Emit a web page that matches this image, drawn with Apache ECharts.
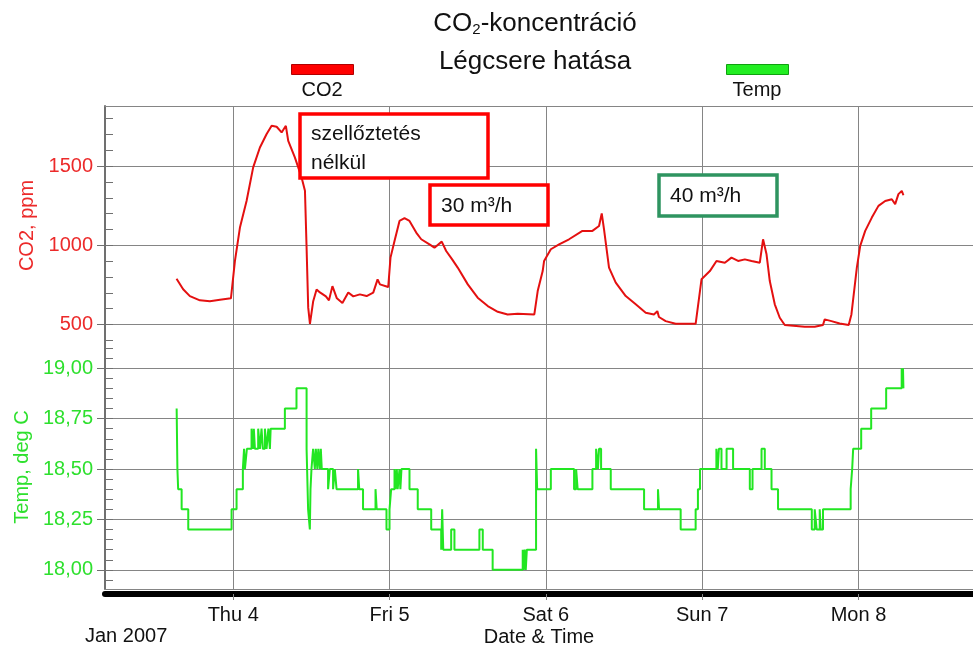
<!DOCTYPE html>
<html>
<head>
<meta charset="utf-8">
<script src="https://cdn.jsdelivr.net/npm/echarts@6/dist/echarts.min.js"></script>
<style>
html, body { margin: 0; padding: 0; background: #fff; }
#chart { width: 973px; height: 648px; }
</style>
</head>
<body>
<div id="chart"></div>
<script>
// CO2 readings (ppm)
const co2Times = [
  '2007-01-03 15:18', '2007-01-03 16:19', '2007-01-03 17:21', '2007-01-03 18:53', '2007-01-03 20:25',
  '2007-01-03 21:58', '2007-01-03 23:39', '2007-01-04 00:16', '2007-01-04 01:02', '2007-01-04 02:03',
  '2007-01-04 03:04', '2007-01-04 04:06', '2007-01-04 05:08', '2007-01-04 05:54', '2007-01-04 06:40',
  '2007-01-04 07:26', '2007-01-04 08:05', '2007-01-04 08:27', '2007-01-04 09:28', '2007-01-04 10:30',
  '2007-01-04 11:01', '2007-01-04 11:16', '2007-01-04 11:31', '2007-01-04 11:47', '2007-01-04 12:17',
  '2007-01-04 12:48', '2007-01-04 13:19', '2007-01-04 14:14', '2007-01-04 14:42', '2007-01-04 15:14',
  '2007-01-04 15:55', '2007-01-04 16:46', '2007-01-04 17:40', '2007-01-04 18:26', '2007-01-04 19:27',
  '2007-01-04 20:29', '2007-01-04 21:30', '2007-01-04 22:10', '2007-01-04 22:32', '2007-01-04 23:48',
  '2007-01-05 00:09', '2007-01-05 00:46', '2007-01-05 01:32', '2007-01-05 02:18', '2007-01-05 03:04',
  '2007-01-05 04:06', '2007-01-05 04:52', '2007-01-05 06:08', '2007-01-05 06:54', '2007-01-05 08:01',
  '2007-01-05 08:42', '2007-01-05 09:37', '2007-01-05 10:28', '2007-01-05 12:01', '2007-01-05 13:32',
  '2007-01-05 15:05', '2007-01-05 16:37', '2007-01-05 18:08', '2007-01-05 19:41', '2007-01-05 22:14',
  '2007-01-05 22:45', '2007-01-05 23:31', '2007-01-05 23:44', '2007-01-06 00:46', '2007-01-06 02:02',
  '2007-01-06 03:34', '2007-01-06 05:37', '2007-01-06 07:09', '2007-01-06 08:10', '2007-01-06 08:35',
  '2007-01-06 08:56', '2007-01-06 09:42', '2007-01-06 10:44', '2007-01-06 12:16', '2007-01-06 13:48',
  '2007-01-06 15:20', '2007-01-06 16:36', '2007-01-06 17:07', '2007-01-06 17:22', '2007-01-06 18:24',
  '2007-01-06 19:56', '2007-01-06 23:00', '2007-01-06 23:54', '2007-01-07 01:11', '2007-01-07 02:12',
  '2007-01-07 03:29', '2007-01-07 04:30', '2007-01-07 05:31', '2007-01-07 06:33', '2007-01-07 07:35',
  '2007-01-07 08:51', '2007-01-07 09:21', '2007-01-07 09:53', '2007-01-07 10:23', '2007-01-07 11:09',
  '2007-01-07 11:55', '2007-01-07 12:41', '2007-01-07 15:45', '2007-01-07 17:17', '2007-01-07 18:33',
  '2007-01-07 18:49', '2007-01-07 19:51', '2007-01-07 21:07', '2007-01-07 22:30', '2007-01-07 22:55',
  '2007-01-07 23:45', '2007-01-08 00:16', '2007-01-08 01:02', '2007-01-08 02:03', '2007-01-08 03:04',
  '2007-01-08 04:06', '2007-01-08 05:07', '2007-01-08 05:38', '2007-01-08 06:08', '2007-01-08 06:39',
  '2007-01-08 06:54'
];
const co2Values = [
  789, 722, 679, 652, 647,
  656, 665, 901, 1112, 1280,
  1492, 1618, 1703, 1755, 1749,
  1713, 1755, 1660, 1555, 1429,
  1344, 985, 606, 504, 647,
  721, 702, 677, 652, 742,
  665, 636, 702, 677, 690,
  679, 701, 785, 753, 736,
  922, 1027, 1154, 1171, 1154,
  1080, 1038, 1006, 985, 1023,
  964, 911, 859, 753, 669,
  616, 580, 563, 568, 563,
  711, 837, 901, 975, 1006,
  1038, 1091, 1091, 1122, 1201,
  1101, 859, 764, 679, 627,
  574, 563, 584, 547, 521,
  504, 504, 785, 837, 901,
  890, 922, 901, 911, 901,
  890, 1038, 943, 774, 627,
  542, 496, 485, 485, 496,
  532, 521, 506, 496, 563,
  859, 996, 1091, 1175, 1249,
  1280, 1291, 1260, 1323, 1344,
  1316
];

// temperature (deg C), each value holds until the next time
const tempTimes = [
  '2007-01-03 15:19', '2007-01-03 15:26', '2007-01-03 15:33', '2007-01-03 16:05', '2007-01-03 17:06',
  '2007-01-03 23:45', '2007-01-04 00:31', '2007-01-04 01:29', '2007-01-04 01:40', '2007-01-04 01:48',
  '2007-01-04 02:06', '2007-01-04 02:49', '2007-01-04 03:01', '2007-01-04 03:10', '2007-01-04 03:20',
  '2007-01-04 03:50', '2007-01-04 04:06', '2007-01-04 04:21', '2007-01-04 04:33', '2007-01-04 04:52',
  '2007-01-04 05:07', '2007-01-04 05:24', '2007-01-04 05:38', '2007-01-04 05:45', '2007-01-04 07:56',
  '2007-01-04 09:43', '2007-01-04 11:16', '2007-01-04 11:30', '2007-01-04 11:46', '2007-01-04 11:52',
  '2007-01-04 12:01', '2007-01-04 12:16', '2007-01-04 12:32', '2007-01-04 12:41', '2007-01-04 12:55',
  '2007-01-04 13:04', '2007-01-04 13:18', '2007-01-04 13:27', '2007-01-04 13:36', '2007-01-04 14:34',
  '2007-01-04 14:50', '2007-01-04 15:20', '2007-01-04 15:36', '2007-01-04 15:52', '2007-01-04 19:10',
  '2007-01-04 19:21', '2007-01-04 19:56', '2007-01-04 21:51', '2007-01-04 22:02', '2007-01-04 23:32',
  '2007-01-05 00:00', '2007-01-05 00:15', '2007-01-05 00:46', '2007-01-05 00:55', '2007-01-05 01:07',
  '2007-01-05 01:15', '2007-01-05 01:32', '2007-01-05 01:40', '2007-01-05 01:50', '2007-01-05 03:04',
  '2007-01-05 04:20', '2007-01-05 06:24', '2007-01-05 07:56', '2007-01-05 08:05', '2007-01-05 08:15',
  '2007-01-05 09:28', '2007-01-05 09:58', '2007-01-05 13:48', '2007-01-05 14:19', '2007-01-05 15:50',
  '2007-01-05 20:27', '2007-01-05 20:35', '2007-01-05 20:45', '2007-01-05 20:55', '2007-01-05 21:05',
  '2007-01-05 22:30', '2007-01-05 22:40', '2007-01-06 00:46', '2007-01-06 04:20', '2007-01-06 04:39',
  '2007-01-06 04:53', '2007-01-06 07:09', '2007-01-06 07:43', '2007-01-06 08:00', '2007-01-06 08:10',
  '2007-01-06 08:29', '2007-01-06 09:58', '2007-01-06 15:05', '2007-01-06 17:13', '2007-01-06 17:23',
  '2007-01-06 20:42', '2007-01-06 23:00', '2007-01-06 23:21', '2007-01-06 23:40', '2007-01-07 02:11',
  '2007-01-07 02:24', '2007-01-07 02:34', '2007-01-07 02:58', '2007-01-07 03:45', '2007-01-07 04:45',
  '2007-01-07 07:19', '2007-01-07 07:44', '2007-01-07 09:07', '2007-01-07 09:37', '2007-01-07 10:39',
  '2007-01-07 11:39', '2007-01-07 16:50', '2007-01-07 17:17', '2007-01-07 17:35', '2007-01-07 18:03',
  '2007-01-07 18:12', '2007-01-07 18:33', '2007-01-07 22:48', '2007-01-07 23:02', '2007-01-07 23:11',
  '2007-01-08 00:25', '2007-01-08 01:57', '2007-01-08 04:15', '2007-01-08 06:38', '2007-01-08 06:44',
  '2007-01-08 06:50', '2007-01-08 06:54'
];
const tempValues = [
  18.8, 18.5, 18.4, 18.3, 18.2,
  18.3, 18.4, 18.5, 18.6, 18.5,
  18.6, 18.7, 18.6, 18.7, 18.6,
  18.7, 18.6, 18.7, 18.6, 18.7,
  18.6, 18.7, 18.6, 18.7, 18.8,
  18.9, 18.6, 18.3, 18.2, 18.4,
  18.5, 18.6, 18.5, 18.6, 18.5,
  18.6, 18.5, 18.6, 18.5, 18.4,
  18.5, 18.4, 18.5, 18.4, 18.5,
  18.4, 18.3, 18.4, 18.3, 18.2,
  18.3, 18.4, 18.5, 18.4, 18.5,
  18.4, 18.5, 18.4, 18.5, 18.4,
  18.3, 18.2, 18.1, 18.3, 18.1,
  18.2, 18.1, 18.2, 18.1, 18.0,
  18.1, 18.0, 18.1, 18.0, 18.1,
  18.6, 18.4, 18.5, 18.4, 18.5,
  18.4, 18.5, 18.6, 18.5, 18.6,
  18.5, 18.4, 18.3, 18.4, 18.3,
  18.2, 18.3, 18.4, 18.5, 18.6,
  18.5, 18.6, 18.5, 18.6, 18.5,
  18.4, 18.5, 18.6, 18.5, 18.4,
  18.3, 18.2, 18.3, 18.2, 18.3,
  18.2, 18.3, 18.4, 18.5, 18.6,
  18.7, 18.8, 18.9, 19.0, 18.9,
  19.0, 18.9
];

// axes
const timeStart = '2007-01-03 04:19';
const timeEnd = '2007-01-08 17:35';
const dayTicks = ['2007-01-04 00:00', '2007-01-05 00:00', '2007-01-06 00:00', '2007-01-07 00:00', '2007-01-08 00:00'];
const dayLabels = ['Thu 4', 'Fri 5', 'Sat 6', 'Sun 7', 'Mon 8'];

const co2Min = 370, co2Max = 1880;
const co2Labels = [500, 1000, 1500];
const co2Minor = [400, 500, 600, 700, 800, 900, 1000, 1100, 1200, 1300, 1400, 1500, 1600, 1700, 1800];

const tempMin = 17.905, tempMax = 19.115;
const tempLabels = [18.00, 18.25, 18.50, 18.75, 19.00];
const tempMinor = [17.95, 18.00, 18.05, 18.10, 18.15, 18.20, 18.25, 18.30, 18.35, 18.40, 18.45, 18.50,
  18.55, 18.60, 18.65, 18.70, 18.75, 18.80, 18.85, 18.90, 18.95, 19.00, 19.05, 19.10];

const FONT = '"Liberation Sans", Arial, sans-serif';
const GRID_COLOR = '#858585';
const CO2_COLOR = '#e41010';
const TEMP_COLOR = '#22e622';

// 'YYYY-MM-DD HH:mm' -> epoch ms (UTC, only used as a linear scale)
function ts(s) {
  const [d, t] = s.split(' ');
  const [y, mo, da] = d.split('-').map(Number);
  const [h, mi] = t.split(':').map(Number);
  return Date.UTC(y, mo - 1, da, h, mi);
}

const dayTickValues = dayTicks.map(ts);
const co2Data = co2Times.map((t, i) => [ts(t), co2Values[i]]);
const tempData = tempTimes.map((t, i) => [ts(t), tempValues[i]]);

function dayLabel(v) {
  let best = 0;
  dayTickValues.forEach((d, i) => {
    if (Math.abs(d - v) < Math.abs(dayTickValues[best] - v)) best = i;
  });
  return dayLabels[best];
}

let chart = echarts.init(document.getElementById('chart'));

let option = {
  animation: false,
  backgroundColor: '#fff',
  textStyle: {fontFamily: FONT},
  grid: [
    {left: 105, right: 0, top: 106, height: 239},
    {left: 105, right: 0, top: 345, height: 245}
  ],
  legend: [
    {
      data: ['CO2'], left: 291, top: 64, padding: 0, icon: 'rect', itemWidth: 62, itemHeight: 10,
      formatter: () => '', selectedMode: false,
      itemStyle: {borderColor: '#b00000', borderWidth: 1}
    },
    {
      data: ['Temp'], left: 726, top: 64, padding: 0, icon: 'rect', itemWidth: 62, itemHeight: 10,
      formatter: () => '', selectedMode: false,
      itemStyle: {borderColor: '#10a010', borderWidth: 1}
    }
  ],
  xAxis: [
    {
      type: 'value', gridIndex: 0, position: 'top', min: ts(timeStart), max: ts(timeEnd),
      axisLine: {show: true, lineStyle: {color: GRID_COLOR, width: 1}},
      axisTick: {show: false, customValues: dayTickValues},
      axisLabel: {show: false},
      splitLine: {show: true, lineStyle: {color: GRID_COLOR, width: 1}}
    },
    {
      type: 'value', gridIndex: 1, position: 'bottom', min: ts(timeStart), max: ts(timeEnd),
      axisLine: {show: true, lineStyle: {color: GRID_COLOR, width: 1}},
      axisTick: {show: false, customValues: dayTickValues},
      axisLabel: {show: false},
      splitLine: {show: true, lineStyle: {color: GRID_COLOR, width: 1}}
    },
    {
      type: 'value', gridIndex: 1, position: 'bottom', min: ts(timeStart), max: ts(timeEnd), offset: 5,
      axisLine: {show: true, lineStyle: {color: '#000', width: 6}},
      axisTick: {show: true, customValues: dayTickValues, length: 6, lineStyle: {color: GRID_COLOR}},
      axisLabel: {
        customValues: dayTickValues, color: '#111', fontSize: 20, margin: 11,
        formatter: (v) => dayLabel(v)
      },
      splitLine: {show: false},
      name: 'Date & Time', nameLocation: 'middle', nameGap: 33,
      nameTextStyle: {color: '#111', fontSize: 20}
    }
  ],
  yAxis: [
    {
      type: 'value', gridIndex: 0, position: 'left', min: co2Min, max: co2Max,
      axisLine: {show: true, lineStyle: {color: '#707070', width: 2}},
      axisTick: {show: true, inside: false, length: 8, customValues: co2Labels, lineStyle: {color: '#707070'}},
      axisLabel: {customValues: co2Labels, color: '#ec2a2a', fontSize: 20, margin: 12, formatter: (v) => String(v)},
      splitLine: {show: true, lineStyle: {color: GRID_COLOR, width: 1}},
      name: 'CO2, ppm', nameLocation: 'middle', nameGap: 68,
      nameTextStyle: {color: '#ec2a2a', fontSize: 20}
    },
    {
      type: 'value', gridIndex: 0, position: 'left', min: co2Min, max: co2Max,
      axisLine: {show: false},
      axisTick: {show: true, inside: true, length: 8, customValues: co2Minor, lineStyle: {color: '#707070'}},
      axisLabel: {show: false},
      splitLine: {show: false}
    },
    {
      type: 'value', gridIndex: 1, position: 'left', min: tempMin, max: tempMax,
      axisLine: {show: true, lineStyle: {color: '#707070', width: 2}},
      axisTick: {show: true, inside: false, length: 8, customValues: tempLabels, lineStyle: {color: '#707070'}},
      axisLabel: {
        customValues: tempLabels, color: '#2ee02e', fontSize: 20, margin: 12,
        formatter: (v) => v.toFixed(2).replace('.', ',')
      },
      splitLine: {show: true, lineStyle: {color: GRID_COLOR, width: 1}},
      name: 'Temp, deg C', nameLocation: 'middle', nameGap: 68,
      nameTextStyle: {color: '#2ee02e', fontSize: 20}
    },
    {
      type: 'value', gridIndex: 1, position: 'left', min: tempMin, max: tempMax,
      axisLine: {show: false},
      axisTick: {show: true, inside: true, length: 8, customValues: tempMinor, lineStyle: {color: '#707070'}},
      axisLabel: {show: false},
      splitLine: {show: false}
    }
  ],
  series: [
    {
      name: 'CO2', type: 'line', xAxisIndex: 0, yAxisIndex: 0,
      showSymbol: false, data: co2Data,
      itemStyle: {color: '#ff0000'},
      lineStyle: {color: CO2_COLOR, width: 2}
    },
    {
      name: 'Temp', type: 'line', xAxisIndex: 1, yAxisIndex: 2,
      showSymbol: false, step: 'end', data: tempData,
      itemStyle: {color: '#22ee22'},
      lineStyle: {color: TEMP_COLOR, width: 2}
    }
  ],
  graphic: [
    {
      type: 'text', x: 535, y: 24,
      style: {
        text: '{a|CO}{b|2}{a|-koncentráció}', align: 'center', verticalAlign: 'middle', fill: '#111',
        rich: {a: {fontSize: 26, fontFamily: FONT, fill: '#111'}, b: {fontSize: 15, fontFamily: FONT, fill: '#111', padding: [12, 0, 0, 0]}}
      }
    },
    {
      type: 'text', x: 535, y: 62,
      style: {text: 'Légcsere hatása', align: 'center', verticalAlign: 'middle', fill: '#111', fontSize: 26, fontFamily: FONT}
    },
    {
      type: 'text', x: 322, y: 90,
      style: {text: 'CO2', align: 'center', verticalAlign: 'middle', fill: '#111', fontSize: 20, fontFamily: FONT}
    },
    {
      type: 'text', x: 757, y: 90,
      style: {text: 'Temp', align: 'center', verticalAlign: 'middle', fill: '#111', fontSize: 20, fontFamily: FONT}
    },
    {
      type: 'text', x: 85, y: 636,
      style: {text: 'Jan 2007', align: 'left', verticalAlign: 'middle', fill: '#111', fontSize: 20, fontFamily: FONT}
    },
    {
      type: 'rect', z: 100, shape: {x: 300, y: 114, width: 188, height: 64},
      style: {fill: '#fff', stroke: '#ff0000', lineWidth: 3.5}
    },
    {
      type: 'text', z: 101, x: 311, y: 149,
      style: {text: 'szellőztetés\nnélkül', align: 'left', verticalAlign: 'middle', fill: '#111', fontSize: 21, lineHeight: 29, fontFamily: FONT}
    },
    {
      type: 'rect', z: 100, shape: {x: 430, y: 185, width: 118, height: 40},
      style: {fill: '#fff', stroke: '#ff0000', lineWidth: 3.5}
    },
    {
      type: 'text', z: 101, x: 441, y: 206,
      style: {text: '30 m³/h', align: 'left', verticalAlign: 'middle', fill: '#111', fontSize: 21, fontFamily: FONT}
    },
    {
      type: 'rect', z: 100, shape: {x: 659, y: 175, width: 118, height: 41},
      style: {fill: '#fff', stroke: '#2e9460', lineWidth: 3.5}
    },
    {
      type: 'text', z: 101, x: 670, y: 196,
      style: {text: '40 m³/h', align: 'left', verticalAlign: 'middle', fill: '#111', fontSize: 21, fontFamily: FONT}
    }
  ]
};

chart.setOption(option);
</script>
</body>
</html>
